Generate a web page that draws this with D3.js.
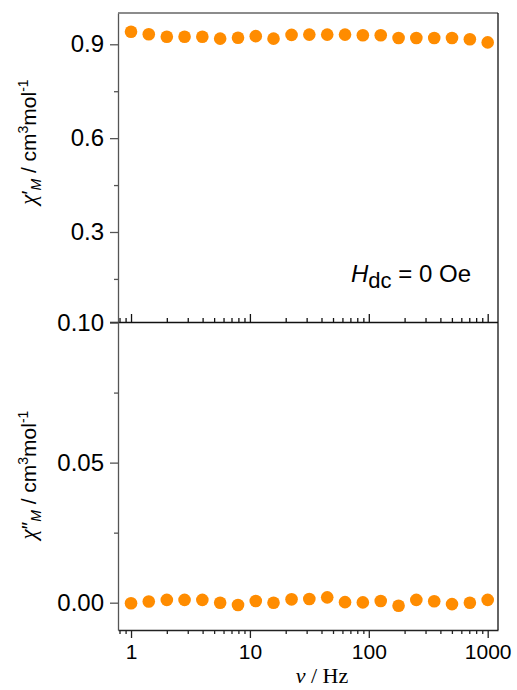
<!DOCTYPE html>
<html>
<head>
<meta charset="utf-8">
<script src="https://cdn.jsdelivr.net/npm/d3@7"></script>
<style>
  body { margin: 0; background: #fff; }
  svg { display: block; }
  text { font-family: "Liberation Sans", Arial, sans-serif; fill: #000; }
</style>
</head>
<body>
<div id="canvas"></div>
<script>
// DATA
const freq = [1, 1.41, 2, 2.82, 3.98, 5.62, 7.94, 11.2, 15.8, 22.4, 31.6,
  44.7, 63.1, 89.1, 126, 178, 251, 355, 501, 708, 1000];
const chiReal = [0.940, 0.932, 0.924, 0.924, 0.924, 0.918, 0.921, 0.926, 0.918, 0.930, 0.931,
  0.931, 0.931, 0.929, 0.929, 0.920, 0.920, 0.920, 0.920, 0.916, 0.906];
const chiImag = [-0.0002, 0.0004, 0.0010, 0.0010, 0.0010, 0.0000, -0.0008, 0.0006, 0.0000, 0.0012, 0.0013,
  0.0019, 0.0002, 0.0001, 0.0006, -0.0011, 0.0010, 0.0005, -0.0005, 0.0000, 0.0010];
const xTickLabels = [1, 10, 100, 1000];
const topMajor = [0.3, 0.6, 0.9];
const topMinor = [0.15, 0.45, 0.75];
const botMajor = [0.00, 0.05, 0.10];
const botMinor = [0.025, 0.075];

// DIMENSIONS
const width = 517;
const height = 690;
const left = 118, right = 498;
const top1 = 13, mid = 322, bot = 630;

const canvas = d3.select('#canvas')
  .append('svg')
  .attr('width', width)
  .attr('height', height);

// SCALES
const x = d3.scaleLog().domain([0.777, 1221]).range([left, right]);
const yTop = d3.scaleLinear().domain([0.0123, 1.0]).range([mid, top1]);
const yBot = d3.scaleLinear().domain([-0.00975, 0.1002]).range([bot, mid]);

const isMajor = v => Math.abs(Math.log10(v) - Math.round(Math.log10(v))) < 1e-6;
const xTicks = x.ticks();

function styleAxis(g, color) {
  g.select('.domain').attr('stroke', color).attr('stroke-width', 1.3);
  g.selectAll('.tick line').attr('stroke', color).attr('stroke-width', 1.3);
}

// X AXES
// middle line, ticks pointing up into top panel
const xMid = canvas.append('g')
  .attr('transform', `translate(0,${mid})`)
  .call(d3.axisBottom(x).tickValues(xTicks).tickSize(-8).tickSizeOuter(0).tickFormat(''));
xMid.select('.domain').attr('d', `M${left - 8},0.5H${right}`);
xMid.selectAll('.tick line').attr('y2', d => isMajor(d) ? -8 : -4);
styleAxis(xMid, '#111');

// bottom axis
const xBot = canvas.append('g')
  .attr('transform', `translate(0,${bot})`)
  .call(d3.axisBottom(x).tickValues(xTicks).tickSize(8).tickSizeOuter(0)
    .tickFormat(d => xTickLabels.includes(d) ? d : ''));
xBot.selectAll('.tick line').attr('y2', d => isMajor(d) ? 8 : 4);
xBot.selectAll('.tick text')
  .attr('y', 14)
  .style('font-size', '21px')
  .style('font-family', '"Liberation Sans", Arial, sans-serif');
styleAxis(xBot, '#222');

// Y AXES
const yTopAx = canvas.append('g')
  .attr('transform', `translate(${left},0)`)
  .call(d3.axisLeft(yTop).tickValues(topMajor.concat(topMinor)).tickSize(8).tickSizeOuter(0)
    .tickFormat(d => topMajor.includes(d) ? d3.format('.1f')(d) : ''));
yTopAx.selectAll('.tick line').attr('x2', d => topMajor.includes(d) ? -8 : -4);

const yBotAx = canvas.append('g')
  .attr('transform', `translate(${left},0)`)
  .call(d3.axisLeft(yBot).tickValues(botMajor.concat(botMinor)).tickSize(8).tickSizeOuter(0)
    .tickFormat(d => botMajor.includes(d) ? d3.format('.2f')(d) : ''));
yBotAx.selectAll('.tick line').attr('x2', d => botMajor.includes(d) ? -8 : -4);

[yTopAx, yBotAx].forEach(g => {
  g.selectAll('.tick text')
    .attr('x', -14)
    .style('font-size', '24px')
    .style('font-family', '"Liberation Sans", Arial, sans-serif');
  styleAxis(g, '#555');
});

// FRAME (top and right)
canvas.append('line')
  .attr('x1', left).attr('x2', right).attr('y1', top1).attr('y2', top1)
  .attr('stroke', '#666').attr('stroke-width', 1.3);
canvas.append('line')
  .attr('x1', right).attr('x2', right).attr('y1', top1).attr('y2', bot)
  .attr('stroke', '#111').attr('stroke-width', 1.3);

// POINTS
const orange = '#ff8c00';
canvas.append('g').selectAll('circle').data(freq).enter()
  .append('circle')
  .attr('cx', d => x(d))
  .attr('cy', (d, i) => yTop(chiReal[i]))
  .attr('r', 6.3)
  .attr('fill', orange);

canvas.append('g').selectAll('circle').data(freq).enter()
  .append('circle')
  .attr('cx', d => x(d))
  .attr('cy', (d, i) => yBot(chiImag[i]))
  .attr('r', 6.3)
  .attr('fill', orange);

// LABELS
function yTitle(cy, primes) {
  const t = canvas.append('text')
    .attr('transform', `translate(36,${cy}) rotate(-90)`)
    .attr('text-anchor', 'middle')
    .style('font-size', '21px');
  t.append('tspan').style('font-style', 'italic')
    .style('font-family', '"Liberation Serif", "Times New Roman", serif')
    .style('font-size', '23px').text('χ');
  t.append('tspan').text(primes);
  t.append('tspan').style('font-style', 'italic').style('font-size', '14px').attr('dy', 5).text('M');
  t.append('tspan').attr('dy', -5).text(' / cm');
  t.append('tspan').style('font-size', '14px').attr('dy', -8).text('3');
  t.append('tspan').attr('dy', 8).text('mol');
  t.append('tspan').style('font-size', '14px').attr('dy', -8).text('-1');
}
yTitle(142, '′');
yTitle(475, '″');

const xt = canvas.append('text')
  .attr('x', 322).attr('y', 683)
  .attr('text-anchor', 'middle')
  .style('font-family', '"Liberation Serif", "Times New Roman", serif')
  .style('font-size', '22px');
xt.append('tspan').style('font-style', 'italic').text('ν');
xt.append('tspan').text(' / Hz');

const leg = canvas.append('text')
  .attr('x', 351).attr('y', 282)
  .style('font-size', '24px');
leg.append('tspan').style('font-style', 'italic').text('H');
leg.append('tspan').attr('dy', 6).style('font-size', '22px').text('dc');
leg.append('tspan').attr('dy', -6).text(' = 0 Oe');
</script>
</body>
</html>
